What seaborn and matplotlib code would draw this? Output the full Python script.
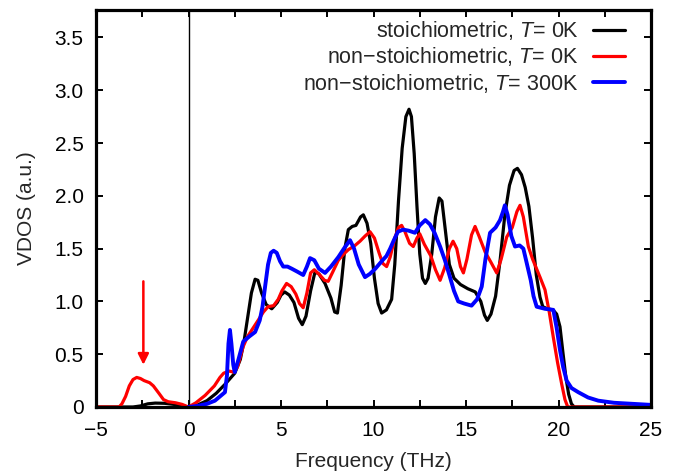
import matplotlib
matplotlib.use("Agg")
import matplotlib.pyplot as plt
import seaborn as sns
import pandas as pd
from matplotlib.ticker import MultipleLocator

# ---------------- data ----------------
stoich_x = [-5, -3, -2.6, -2.2, -1.8, -1.3, -0.8, -0.4, 0, 0.5, 1.0, 1.5, 2.0, 2.5, 2.8, 3.0,
            3.2, 3.4, 3.6, 3.75, 3.95, 4.2, 4.5, 4.8, 5.0, 5.2, 5.45, 5.7, 5.95, 6.15, 6.35,
            6.6, 6.84, 7.05, 7.38, 7.7, 7.9, 8.05, 8.25, 8.45, 8.64, 8.85, 9.05, 9.3, 9.45,
            9.65, 9.85, 10.05, 10.25, 10.44, 10.7, 10.98, 11.15, 11.35, 11.55, 11.75, 11.92,
            12.05, 12.2, 12.35, 12.5, 12.65, 12.8, 12.95, 13.15, 13.35, 13.55, 13.7, 13.9,
            14.1, 14.35, 14.7, 15.1, 15.5, 15.8, 16.0, 16.15, 16.35, 16.6, 16.85, 17.1, 17.35,
            17.6, 17.78, 18.0, 18.2, 18.4, 18.6, 18.8, 19.0, 19.15, 19.4, 19.7, 19.9, 20.08,
            20.25, 20.4, 20.55, 20.7, 20.85, 25]
stoich_y = [0, 0, 0.01, 0.03, 0.037, 0.035, 0.025, 0.012, 0, 0.02, 0.06, 0.13, 0.22, 0.32, 0.45, 0.62,
            0.85, 1.08, 1.21, 1.2, 1.08, 0.97, 0.93, 0.99, 1.06, 1.09, 1.06, 0.99, 0.84, 0.78, 0.86,
            1.1, 1.28, 1.26, 1.17, 1.03, 0.9, 0.89, 1.15, 1.5, 1.68, 1.71, 1.72, 1.8, 1.82,
            1.74, 1.55, 1.22, 0.98, 0.89, 0.92, 1.02, 1.35, 1.95, 2.45, 2.75, 2.82,
            2.75, 2.4, 1.9, 1.45, 1.22, 1.17, 1.22, 1.45, 1.8, 1.98, 1.95, 1.65,
            1.35, 1.22, 1.16, 1.12, 1.09, 1.0, 0.87, 0.82, 0.88, 1.05, 1.4, 1.82, 2.1,
            2.24, 2.26, 2.2, 2.08, 1.9, 1.6, 1.25, 1.04, 0.95, 0.93, 0.92, 0.88, 0.76,
            0.5, 0.28, 0.12, 0.03, 0, 0]

nonst_x = [-5, -3.75, -3.6, -3.4, -3.2, -3.0, -2.8, -2.6, -2.4, -2.1, -1.9, -1.6, -1.35, -1.1,
           -0.7, -0.35, 0, 0.4, 0.9, 1.4, 1.7, 1.9, 2.2, 2.45, 2.65, 2.95, 3.2, 3.5, 3.76, 4.05,
           4.3, 4.6, 4.85, 5.05, 5.3, 5.55, 5.8, 6.0, 6.2, 6.4, 6.6, 6.8, 7.1, 7.35, 7.55, 7.8,
           8.1, 8.4, 8.64, 9.0, 9.27, 9.55, 9.81, 10.05, 10.3, 10.5, 10.71, 10.9, 11.15, 11.35,
           11.52, 11.7, 11.95, 12.15, 12.35, 12.5, 12.75, 13.1, 13.35, 13.6, 13.85, 14.1, 14.3,
           14.5, 14.7, 14.86, 15.05, 15.3, 15.49, 15.7, 16.03, 16.35, 16.66, 16.9, 17.2, 17.5,
           17.75, 17.92, 18.1, 18.37, 18.6, 19.0, 19.27, 19.5, 19.72, 19.95, 20.17, 20.35, 20.5, 25]
nonst_y = [0, 0, 0.03, 0.1, 0.2, 0.26, 0.28, 0.27, 0.25, 0.23, 0.2, 0.13, 0.07, 0.05,
           0.04, 0.025, 0, 0.04, 0.11, 0.2, 0.28, 0.32, 0.34, 0.33, 0.38, 0.57, 0.67, 0.75, 0.82, 0.9,
           0.95, 0.96, 1.02, 1.1, 1.17, 1.14, 1.07, 0.98, 0.94, 1.08, 1.27, 1.3, 1.25, 1.2, 1.19, 1.28,
           1.39, 1.45, 1.49, 1.53, 1.57, 1.62, 1.66, 1.6, 1.46, 1.36, 1.33, 1.42, 1.6, 1.7,
           1.72, 1.66, 1.55, 1.52, 1.6, 1.64, 1.54, 1.43, 1.3, 1.2, 1.32, 1.5, 1.57,
           1.5, 1.33, 1.27, 1.4, 1.63, 1.71, 1.62, 1.47, 1.37, 1.27, 1.4, 1.61, 1.7,
           1.85, 1.91, 1.8, 1.52, 1.4, 1.23, 1.11, 0.9, 0.66, 0.42, 0.22, 0.07, 0, 0]

hot_x = [0, 0.5, 1.0, 1.43, 1.7, 1.97, 2.08, 2.16, 2.24, 2.32, 2.42, 2.5, 2.7, 2.96, 3.3, 3.6,
         3.85, 4.0, 4.14, 4.3, 4.45, 4.6, 4.77, 4.95, 5.12, 5.35, 5.58, 5.9, 6.2, 6.4, 6.57,
         6.8, 7.05, 7.38, 7.7, 8.1, 8.4, 8.73, 8.95, 9.2, 9.54, 9.8, 10.1, 10.44, 10.7, 10.9,
         11.1, 11.32, 11.6, 11.9, 12.24, 12.5, 12.8, 13.05, 13.3, 13.6, 13.86, 14.1, 14.35,
         14.58, 14.9, 15.3, 15.6, 15.85, 16.05, 16.3, 16.6, 16.84, 17.0, 17.1, 17.25, 17.45,
         17.65, 17.9, 18.1, 18.3, 18.5, 18.65, 18.82, 19.27, 19.72, 19.9, 20.08, 20.25, 20.44,
         20.7, 21.07, 21.6, 22.15, 23.0, 24.0, 25]
hot_y = [0, 0.01, 0.03, 0.06, 0.1, 0.14, 0.3, 0.6, 0.73, 0.6, 0.4, 0.33, 0.45, 0.62, 0.67, 0.71,
         0.82, 0.95, 1.14, 1.35, 1.46, 1.48, 1.46, 1.38, 1.33, 1.33, 1.31, 1.28, 1.25, 1.33, 1.41,
         1.39, 1.31, 1.27, 1.33, 1.42, 1.5, 1.58, 1.5, 1.35, 1.23, 1.26, 1.31, 1.38, 1.43, 1.5,
         1.58, 1.66, 1.68, 1.67, 1.65, 1.72, 1.77, 1.73, 1.65, 1.52, 1.39, 1.25, 1.1,
         1.0, 0.98, 0.96, 1.02, 1.14, 1.4, 1.65, 1.7, 1.77, 1.85, 1.91, 1.82, 1.62,
         1.52, 1.53, 1.5, 1.35, 1.2, 1.05, 0.95, 0.93, 0.92, 0.75, 0.54, 0.38, 0.25,
         0.18, 0.14, 0.09, 0.06, 0.04, 0.03, 0.02]

labels = ["stoichiometric, $T$= 0K",
          "non\u2212stoichiometric, $T$= 0K",
          "non\u2212stoichiometric, $T$= 300K"]
colors = ["#000000", "#ff0000", "#0000ff"]
x_ticks = [-5, 0, 5, 10, 15, 20, 25]
y_ticks = [0, 0.5, 1.0, 1.5, 2.0, 2.5, 3.0, 3.5]
y_ticklabels = ["0", "0.5", "1.0", "1.5", "2.0", "2.5", "3.0", "3.5"]
arrow_x, arrow_top, arrow_tip = -2.44, 1.19, 0.40

# ---------------- style ----------------
sns.set_theme(style="ticks")
plt.rcParams["font.family"] = ["Liberation Sans", "DejaVu Sans"]
plt.rcParams["mathtext.fontset"] = "custom"
plt.rcParams["mathtext.it"] = "Liberation Sans:italic"
plt.rcParams["mathtext.rm"] = "Liberation Sans"
plt.rcParams["axes.unicode_minus"] = True

fig = plt.figure(figsize=(6.76, 4.75), dpi=100)
ax = fig.add_axes([96/676, 68/475, 555/676, 397/475])

series = [(stoich_x, stoich_y), (nonst_x, nonst_y), (hot_x, hot_y)]
lws = [2.3, 2.3, 2.8]
for (xs, ys), lab, c, lw in zip(series, labels, colors, lws):
    df = pd.DataFrame({"x": xs, "y": ys})
    sns.lineplot(data=df, x="x", y="y", color=c, lw=lw, label=lab, ax=ax,
                 estimator=None, sort=False)

ax.axvline(0, color="black", lw=1.0, zorder=1)
ax.annotate("", xy=(arrow_x, arrow_tip), xytext=(arrow_x, arrow_top),
            arrowprops=dict(arrowstyle="-|>", color="red", lw=1.8, mutation_scale=16,
                            shrinkA=0, shrinkB=0))

ax.set_xlim(-5, 25)
ax.set_ylim(0, 3.76)
ax.set_xticks(x_ticks)
ax.set_yticks(y_ticks)
ax.set_yticklabels(y_ticklabels)
ax.xaxis.set_minor_locator(MultipleLocator(2.5))
ax.tick_params(which="both", direction="in", top=True, right=True, labelsize=15,
               width=1.4, colors="black")
ax.tick_params(which="major", length=5)
ax.tick_params(which="minor", length=5)
ax.tick_params(axis="x", which="major", pad=10)
ax.tick_params(axis="y", which="major", pad=9)
for s in ax.spines.values():
    s.set_linewidth(2.3)
    s.set_color("black")

ax.set_xlabel("Frequency (THz)", fontsize=15, labelpad=9)
ax.set_ylabel("VDOS (a.u.)", fontsize=15, labelpad=13)

leg = ax.legend(loc="upper right", frameon=False, markerfirst=False, fontsize=15.5,
                handlelength=1.5, handletextpad=0.64, labelspacing=0.15,
                borderpad=0, borderaxespad=0, bbox_to_anchor=(0.953, 0.977))

fig.savefig("out.png", dpi=100)
